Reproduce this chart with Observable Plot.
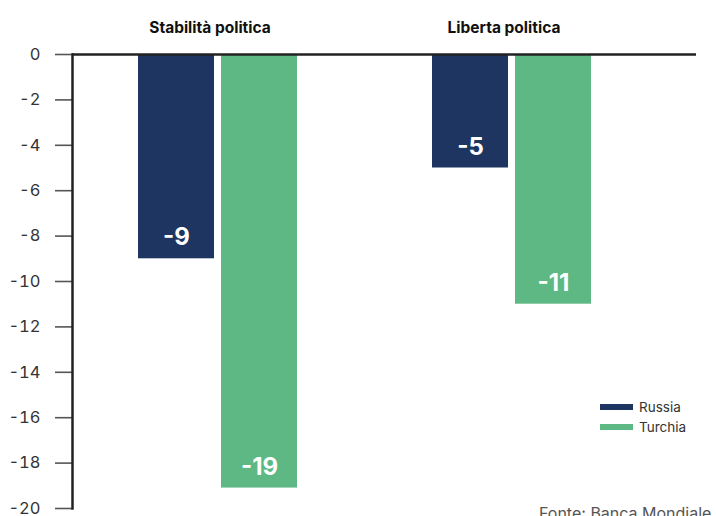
<!DOCTYPE html>
<html>
<head>
<meta charset="utf-8">
<script src="https://cdn.jsdelivr.net/npm/d3@7"></script>
<script src="https://cdn.jsdelivr.net/npm/@observablehq/plot@0.6"></script>
<style>
  html, body { margin: 0; padding: 0; background: #fff; overflow: hidden; }
  #wrap { position: relative; width: 716px; height: 516px; font-family: Inter, "Open Sans", sans-serif; }
  .legend { position: absolute; left: 600px; top: 397px; font-size: 13.5px; color: #333; line-height: 20px; }
  .legend div { display: flex; align-items: center; }
  .legend span.sw { display: inline-block; width: 33px; height: 6px; margin-right: 6px; }
  .source { position: absolute; left: 539px; top: 503px; font-size: 16px; color: #555; white-space: nowrap; }
</style>
</head>
<body>
<div id="wrap"></div>
<script>
const groups = ["Stabilità politica", "Liberta politica"];
const russia = [-9, -5];
const turchia = [-19.1, -11];
const series = ["Russia", "Turchia"];
const colors = ["#1e3461", "#5db884"];
const yTicks = [0, -2, -4, -6, -8, -10, -12, -14, -16, -18, -20];

const dataR = groups.map((g, i) => ({group: g, value: russia[i]}));
const dataT = groups.map((g, i) => ({group: g, value: turchia[i]}));

const chart = Plot.plot({
  width: 716,
  height: 516,
  marginTop: 54,
  marginBottom: 8,
  marginLeft: 72,
  marginRight: 20,
  style: {fontFamily: "Inter, 'Open Sans', sans-serif", background: "#fff"},
  x: {domain: groups, paddingInner: 0.46, paddingOuter: 0.29, align: 0.386, axis: null},
  y: {domain: [-20, 0], axis: null},
  marks: [
    Plot.barY(dataR, {x: "group", y: "value", fill: colors[0], insetRight: 83}),
    Plot.barY(dataT, {x: "group", y: "value", fill: colors[1], insetLeft: 83}),
    Plot.text(dataR, {x: "group", y: "value", text: d => String(Math.round(d.value)), dx: -41.5, dy: -21, fill: "#fff", fontSize: 24, fontWeight: 700}),
    Plot.text(dataT, {x: "group", y: "value", text: d => String(Math.round(d.value)), dx: 41.5, dy: -21, fill: "#fff", fontSize: 24, fontWeight: 700}),
    Plot.axisX({anchor: "top", label: null, tickSize: 0, tickPadding: 22, dx: -8, fontSize: 15.5, fontWeight: 700, fill: "#111"}),
    Plot.axisY(yTicks, {anchor: "left", label: null, tickSize: 17, tickPadding: 15, tickFormat: d => String(d), fontSize: 16.5, fill: "#333", stroke: "#555", strokeWidth: 1.6}),
    Plot.frame({anchor: "left", stroke: "#222", strokeWidth: 2.5}),
    Plot.ruleY([0], {stroke: "#222", strokeWidth: 2.6})
  ]
});
const wrap = document.getElementById("wrap");
wrap.appendChild(chart);

const legend = document.createElement("div");
legend.className = "legend";
series.forEach((s, i) => {
  const row = document.createElement("div");
  const sw = document.createElement("span");
  sw.className = "sw";
  sw.style.background = colors[i];
  row.appendChild(sw);
  row.appendChild(document.createTextNode(s));
  legend.appendChild(row);
});
wrap.appendChild(legend);

const src = document.createElement("div");
src.className = "source";
src.textContent = "Fonte: Banca Mondiale";
wrap.appendChild(src);
</script>
</body>
</html>
